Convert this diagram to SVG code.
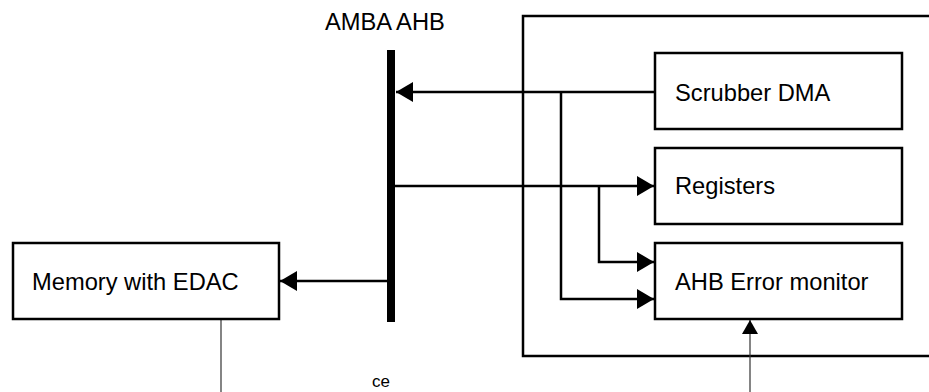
<svg xmlns="http://www.w3.org/2000/svg" width="929" height="392" viewBox="0 0 929 392">
<style>
.box{fill:#fff;stroke:#000;stroke-width:2.5}
.lbl{font-family:"Liberation Sans",Arial,sans-serif;font-size:23.7px;fill:#000}
.con{fill:none;stroke:#000;stroke-width:2.5}
.thin{fill:none;stroke:#333;stroke-width:1.2}
</style>
<defs>
<marker id="ah" markerUnits="userSpaceOnUse" markerWidth="17" markerHeight="20" refX="17" refY="10" orient="auto">
<path d="M0,0 L17,10 L0,20 z" fill="#000"/>
</marker>
<marker id="ahs" markerUnits="userSpaceOnUse" markerWidth="14" markerHeight="16" refX="14" refY="8" orient="auto">
<path d="M0,0 L14,8 L0,16 z" fill="#000"/>
</marker>
</defs>
<g id="outer">
<path d="M940,16 H523 V356 H940" fill="none" stroke="#000" stroke-width="2.5"/>
</g>
<g id="bus">
<rect x="387" y="50" width="8" height="272" fill="#000"/>
<text class="lbl" x="325" y="30">AMBA AHB</text>
</g>
<g id="connectors">
<line class="con" x1="655" y1="92" x2="396" y2="92" marker-end="url(#ah)"/>
<polyline class="con" points="561,92 561,299 654,299" marker-end="url(#ah)"/>
<line class="con" x1="395" y1="186" x2="654" y2="186" marker-end="url(#ah)"/>
<polyline class="con" points="599,186 599,262 654,262" marker-end="url(#ah)"/>
<line class="con" x1="387" y1="281" x2="280" y2="281" marker-end="url(#ah)"/>
<line class="thin" x1="221" y1="320" x2="221" y2="392"/>
<line class="thin" x1="750" y1="392" x2="750" y2="320" marker-end="url(#ahs)"/>
</g>
<g id="scrubber">
<rect class="box" x="655" y="53" width="247" height="76"/>
<text class="lbl" x="675" y="101">Scrubber DMA</text>
</g>
<g id="registers">
<rect class="box" x="655" y="148" width="247" height="76"/>
<text class="lbl" x="675" y="194">Registers</text>
</g>
<g id="errmon">
<rect class="box" x="655" y="243" width="247" height="76"/>
<text class="lbl" x="675" y="290">AHB Error monitor</text>
</g>
<g id="memory">
<rect class="box" x="13" y="243" width="266" height="76"/>
<text class="lbl" x="32" y="290">Memory with EDAC</text>
</g>
<text x="372" y="387" font-family="Liberation Sans, Arial, sans-serif" font-size="17" fill="#000">ce</text>
</svg>
